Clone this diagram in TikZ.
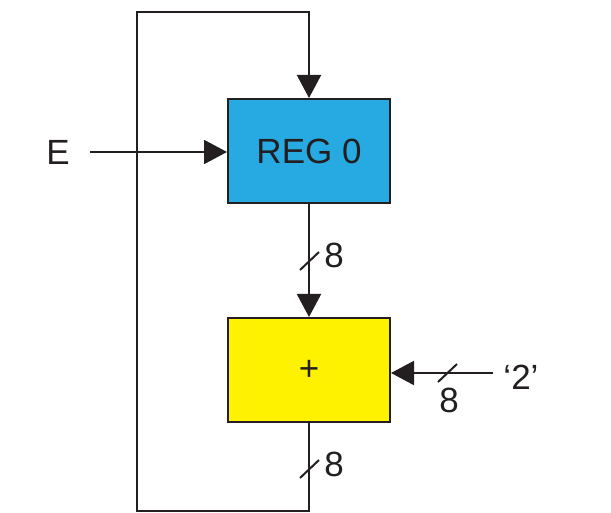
\documentclass[tikz,border=0pt]{standalone}
\usepackage{fontspec}
\setmainfont{Liberation Sans}
\usetikzlibrary{arrows.meta,positioning}
\definecolor{regblue}{HTML}{27AAE1}
\definecolor{addyellow}{HTML}{FFF200}
\definecolor{ink}{HTML}{231F20}

\begin{document}
\begin{tikzpicture}[x=1pt,y=-1pt,
  box/.style={draw=ink,line width=2pt,minimum width=162pt,minimum height=104pt,text=ink,font=\fontsize{35}{42}\selectfont},
  wire/.style={draw=ink,line width=2pt},
  arr/.style={wire,-{Triangle[length=23pt,width=24pt]}},
  lbl/.style={inner sep=0pt,text=ink,font=\fontsize{35}{42}\selectfont}]
\useasboundingbox (0,0) rectangle (611,513);
\node[box,fill=regblue] (reg) at (309,151) {REG 0};
\node[box,fill=addyellow,below=113pt of reg] (add) {+};
\node[lbl] (e) at (58,152) {E};
\node[lbl] (two) at (521,377) {‘2’};
\coordinate (ein) at (90,152);
\coordinate (tin) at (493,373);
\coordinate (lb) at (137,511);
\coordinate (lt) at (137,12);
% bus width marks
\coordinate (s1) at (309.5,261);
\coordinate (s2) at (447.5,373);
\coordinate (s3) at (309.5,469);
\node[lbl] (w1) at (334,255) {8};
\node[lbl] (w2) at (449,400) {8};
\node[lbl] (w3) at (334,464) {8};
% connections
\draw[arr] (ein) -- (ein -| reg.west);
\draw[arr] (reg) -- (add);
\draw[arr] (tin) -- (tin -| add.east);
\draw[arr] (add.south) -- (add.south |- lb) -- (lb) -- (lt) -- (lt -| reg.north) -- (reg.north);
\foreach \s in {s1,s2,s3}{\draw[wire] (\s) ++(-9.5,9) -- ++(19,-18);}
\end{tikzpicture}
\end{document}
